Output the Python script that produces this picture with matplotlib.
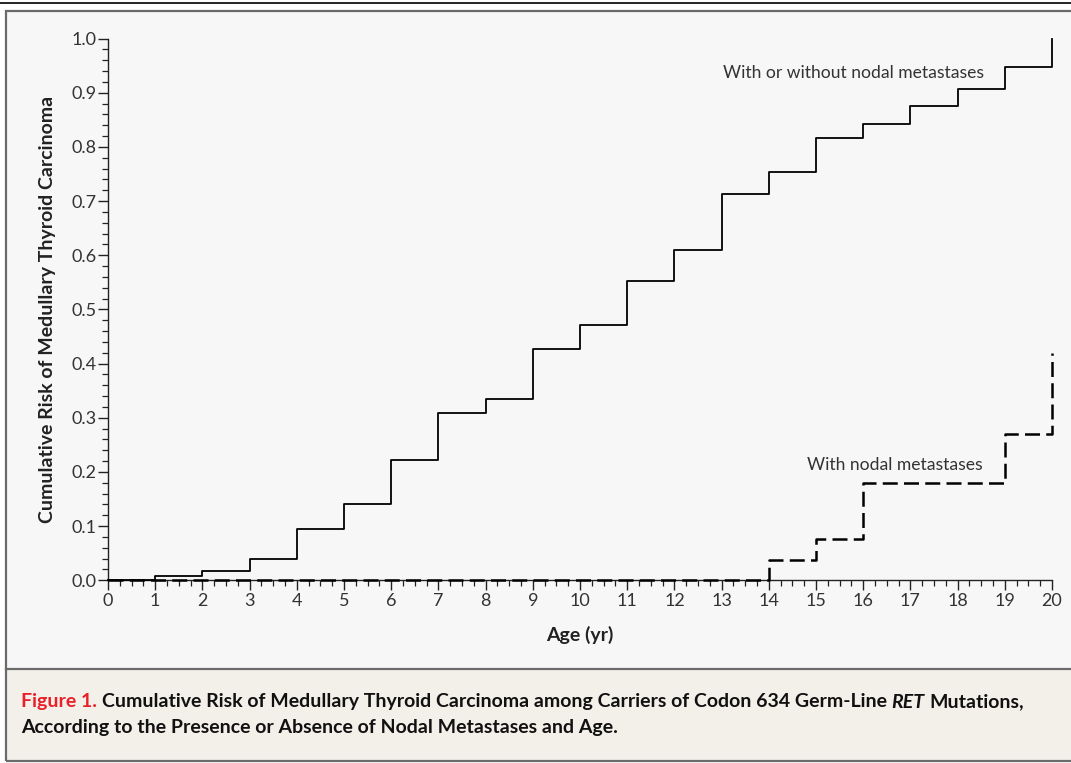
import numpy as np
import matplotlib
matplotlib.use("Agg")
import matplotlib.pyplot as plt
from matplotlib.patches import Rectangle
from matplotlib.lines import Line2D
from matplotlib.ticker import MultipleLocator

# step values, value held over [age, age+1)
ages = list(range(0, 21))
risk_all = [0.0, 0.0074, 0.017, 0.039, 0.094, 0.141, 0.2225, 0.309, 0.334, 0.426,
            0.472, 0.552, 0.609, 0.713, 0.753, 0.816, 0.843, 0.875, 0.906, 0.947, 1.0]
risk_nodal = [0.0, 0.0, 0.0, 0.0, 0.0, 0.0, 0.0, 0.0, 0.0, 0.0,
              0.0, 0.0, 0.0, 0.0, 0.037, 0.076, 0.18, 0.18, 0.18, 0.27, 0.42]

label_all = "With or without nodal metastases"
label_nodal = "With nodal metastases"
caption_1 = "Cumulative Risk of Medullary Thyroid Carcinoma among Carriers of Codon 634 Germ-Line"
caption_1b = "Mutations,"
caption_2 = "According to the Presence or Absence of Nodal Metastases and Age."

W, H = 1071, 763
FONT = ["Lato", "DejaVu Sans"]
plt.rcParams['font.family'] = FONT
CAP = 14

fig = plt.figure(figsize=(W / 100, H / 100), dpi=100)
fig.patch.set_facecolor("white")


def fx(px):
    return px / W


def fy(py):
    return 1 - py / H


# panel backgrounds and borders
fig.add_artist(Rectangle((fx(5), fy(669)), fx(1080) - fx(5), fy(11) - fy(669),
                         transform=fig.transFigure, facecolor="#f7f7f7", edgecolor="none", zorder=0))
fig.add_artist(Rectangle((fx(5), fy(761)), fx(1080) - fx(5), fy(669) - fy(761),
                         transform=fig.transFigure, facecolor="#f3efe9", edgecolor="none", zorder=0))
fig.add_artist(Rectangle((fx(6), fy(761)), fx(1080) - fx(6), fy(11) - fy(761),
                         transform=fig.transFigure, facecolor="none", edgecolor="#6b6b6b", lw=1.6, zorder=1))
fig.add_artist(Line2D([fx(6), fx(1080)], [fy(669), fy(669)], transform=fig.transFigure,
                      color="#6b6b6b", lw=1.6, zorder=1))
fig.add_artist(Line2D([0, 1], [fy(3), fy(3)], transform=fig.transFigure, color="black", lw=1.2))

ax = fig.add_axes([fx(108), fy(580.3), fx(1052) - fx(108), fy(38.5) - fy(580.3)])
ax.set_facecolor("none")
ax.set_xlim(0, 20)
ax.set_ylim(0, 1)

ax.step(ages, risk_all, where="post", color="black", lw=1.3, clip_on=False, zorder=3)
ax.step(ages, risk_nodal, where="post", color="black", lw=1.8, clip_on=False, zorder=3,
        dashes=(6, 2.5))

for s in ["top", "right"]:
    ax.spines[s].set_visible(False)
for s in ["left", "bottom"]:
    ax.spines[s].set_color("#222222")
    ax.spines[s].set_linewidth(1.0)

ax.xaxis.set_major_locator(MultipleLocator(1))
ax.xaxis.set_minor_locator(MultipleLocator(0.25))
ax.yaxis.set_major_locator(MultipleLocator(0.1))
ax.yaxis.set_minor_locator(MultipleLocator(0.02))
ax.set_yticklabels([f"{v:.1f}" for v in ax.get_yticks()])
ax.tick_params(which="major", length=7, width=1.0, color="#222222", labelsize=13,
               labelcolor="#333333", direction="out")
ax.tick_params(which="minor", length=4.5, width=0.9, color="#222222", direction="out")
ax.tick_params(axis="x", pad=2)
ax.tick_params(axis="y", pad=1.5)

ax.set_xlabel("Age (yr)", fontsize=14, fontweight="bold", color="#222222", labelpad=12)
ax.set_ylabel("Cumulative Risk of Medullary Thyroid Carcinoma", fontsize=14,
              fontweight="bold", color="#222222", labelpad=11)

ax.text(13.03, 0.937, label_all, fontsize=12.6, color="#333333", ha="left", va="center")
ax.text(14.81, 0.213, label_nodal, fontsize=12.6, color="#333333", ha="left", va="center")

# caption, drawn piece by piece
fig.canvas.draw()
renderer = fig.canvas.get_renderer()


def put(x, y, s, **kw):
    t = fig.text(x, y, s, fontsize=CAP, fontweight="bold", va="center", ha="left", **kw)
    bb = t.get_window_extent(renderer)
    return x + bb.width / W


sp_a = fig.text(0, 0, "a a", fontsize=CAP, fontweight="bold")
sp_b = fig.text(0, 0, "aa", fontsize=CAP, fontweight="bold")
space = (sp_a.get_window_extent(renderer).width - sp_b.get_window_extent(renderer).width) / W
sp_a.remove()
sp_b.remove()

x = fx(21)
x = put(x, fy(702), "Figure 1.", color="#e8202a") + space
x = put(x, fy(702), caption_1, color="#111111") + space
x = put(x, fy(702), "RET", color="#111111", fontstyle="italic") + space
put(x, fy(702), caption_1b, color="#111111")
put(fx(21), fy(728), caption_2, color="#111111")

fig.savefig("out.png", dpi=100)
